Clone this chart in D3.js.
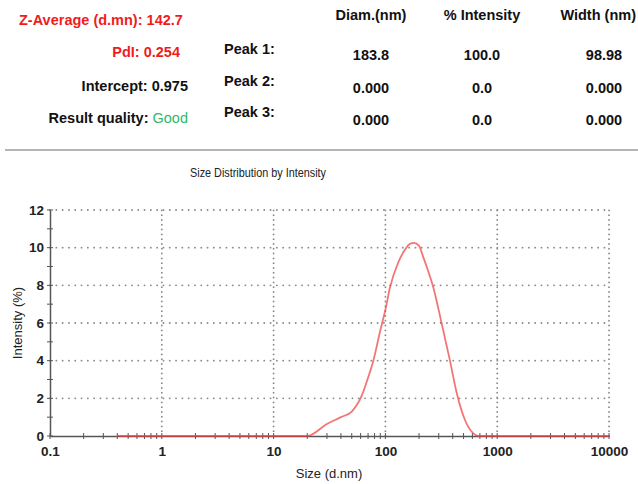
<!DOCTYPE html>
<html>
<head>
<meta charset="utf-8">
<script src="https://cdn.jsdelivr.net/npm/d3@7"></script>
<style>
  body { margin: 0; background: #fff; }
  svg { display: block; font-family: "Liberation Sans", Arial, sans-serif; }
</style>
</head>
<body>
<div id="chart"></div>
<script>
"use strict";

// Summary values from the report header
var summaryRows = [
    { label: "Z-Average (d.mn): ", value: "142.7", color: "#f01c1c", valueColor: "#f01c1c" },
    { label: "PdI: ", value: "0.254", color: "#f01c1c", valueColor: "#f01c1c" },
    { label: "Intercept: ", value: "0.975", color: "#111", valueColor: "#111" },
    { label: "Result quality: ", value: "Good", color: "#111", valueColor: "#2fb86b" }
];
var peakNames = ["Peak 1:", "Peak 2:", "Peak 3:"];
var peakColumns = ["Diam.(nm)", "% Intensity", "Width (nm)"];
var peakDiam = ["183.8", "0.000", "0.000"];
var peakIntensity = ["100.0", "0.0", "0.0"];
var peakWidth = ["98.98", "0.000", "0.000"];

// Size distribution (d.nm vs intensity %)
var sizes = [0.4, 1, 10, 20, 30, 40, 50, 61, 70, 78, 90, 100, 110, 130, 150, 166, 180, 200, 218, 240, 268, 318, 378, 434, 515, 611, 680, 1000, 10000];
var intensities = [0, 0, 0, 0, 0.64, 1.0, 1.3, 2.1, 3.1, 4.0, 5.6, 6.7, 7.9, 9.2, 9.9, 10.2, 10.25, 10.1, 9.5, 8.8, 7.9, 6.0, 4.0, 2.3, 0.85, 0.14, 0, 0, 0];
var xTicks = [0.1, 1, 10, 100, 1000, 10000];
var yTicks = [0, 2, 4, 6, 8, 10, 12];

var width = 638, height = 484;
var svg = d3.select("#chart").append("svg")
    .attr("width", width)
    .attr("height", height);

var headFont = "14.5px";

// ---- header block ----
var rowY = [20, 52, 86, 118];
summaryRows.forEach(function (r, i) {
    var t = svg.append("text")
        .attr("y", rowY[i])
        .attr("dy", "0.35em")
        .style("font-size", headFont)
        .style("font-weight", "bold");
    if (i === 0) {
        t.attr("x", 19).attr("text-anchor", "start");
    } else {
        t.attr("x", i === 1 ? 180 : 188).attr("text-anchor", "end");
    }
    t.append("tspan").attr("fill", r.color).text(r.label);
    t.append("tspan").attr("fill", r.valueColor)
        .style("font-weight", r.value === "Good" ? "normal" : "bold")
        .text(r.value);
});

var peakY = [49, 81, 112];
var valueY = [55, 88, 120];
peakNames.forEach(function (p, i) {
    svg.append("text")
        .attr("x", 224).attr("y", peakY[i]).attr("dy", "0.35em")
        .style("font-size", headFont).style("font-weight", "bold")
        .attr("fill", "#111")
        .text(p);
});
var colX = [371, 482, 604];
peakColumns.forEach(function (c, i) {
    var last = i === peakColumns.length - 1;
    svg.append("text")
        // last header sits against the right edge so it stays whole
        .attr("x", last ? 636 : colX[i]).attr("y", 15).attr("dy", "0.35em")
        .attr("text-anchor", last ? "end" : "middle")
        .style("font-size", headFont).style("font-weight", "bold")
        .attr("fill", "#111")
        .text(c);
});
[peakDiam, peakIntensity, peakWidth].forEach(function (col, ci) {
    col.forEach(function (v, ri) {
        svg.append("text")
            .attr("x", colX[ci]).attr("y", valueY[ri]).attr("dy", "0.35em")
            .attr("text-anchor", "middle")
            .style("font-size", headFont).style("font-weight", "bold")
            .attr("fill", "#111")
            .text(v);
    });
});

// separator
svg.append("line")
    .attr("x1", 5).attr("x2", width).attr("y1", 150).attr("y2", 150)
    .attr("stroke", "#b5b5b5").attr("stroke-width", 2);

svg.append("text")
    .attr("x", 258).attr("y", 172).attr("dy", "0.35em")
    .attr("text-anchor", "middle")
    .style("font-size", "13px")
    .attr("fill", "#222")
    .attr("textLength", 136).attr("lengthAdjust", "spacingAndGlyphs")
    .text("Size Distribution by Intensity");

// ---- plot ----
var x = d3.scaleLog().domain([0.1, 10000]).range([50, 609]);
var y = d3.scaleLinear().domain([0, 12]).range([436, 210]);

// dotted grid
var grid = svg.append("g").attr("stroke", "#8c8c8c").attr("stroke-width", 1.8)
    .attr("stroke-linecap", "round");
grid.selectAll("line.h")
    .data(yTicks.filter(function (d) { return d > 0; }))
    .enter().append("line")
    .attr("x1", x(0.1)).attr("x2", x(10000))
    .attr("y1", function (d) { return y(d); })
    .attr("y2", function (d) { return y(d); })
    .attr("stroke-dasharray", "0.1,6.2");
grid.selectAll("line.v")
    .data(xTicks.filter(function (d) { return d > 0.1; }))
    .enter().append("line")
    .attr("y1", y(0)).attr("y2", y(12))
    .attr("x1", function (d) { return x(d); })
    .attr("x2", function (d) { return x(d); })
    .attr("stroke-dasharray", "0.1,4.7");

// axes
var minorX = [];
[0.1, 1, 10, 100, 1000].forEach(function (dec) {
    for (var k = 2; k <= 9; k++) minorX.push(dec * k);
});
var xAxis = d3.axisBottom(x).tickValues(xTicks)
    .tickFormat(function (d) { return String(d); })
    .tickSize(0).tickPadding(10);
var gx = svg.append("g").attr("transform", "translate(0," + y(0) + ")").call(xAxis);
gx.select(".domain").attr("stroke", "#555").attr("stroke-width", 1.5);
gx.selectAll("text").style("font-size", "13.5px").style("font-family", "Liberation Sans, Arial, sans-serif")
    .style("font-weight", "bold").attr("fill", "#222");
svg.append("g").selectAll("line")
    .data(minorX.concat(xTicks))
    .enter().append("line")
    .attr("x1", function (d) { return x(d); })
    .attr("x2", function (d) { return x(d); })
    .attr("y1", y(0) - 3).attr("y2", y(0) + 3)
    .attr("stroke", "#555").attr("stroke-width", 1);

var yAxis = d3.axisLeft(y).tickValues(yTicks).tickSize(0).tickPadding(6);
var gy = svg.append("g").attr("transform", "translate(" + x(0.1) + ",0)").call(yAxis);
gy.select(".domain").attr("stroke", "#555").attr("stroke-width", 1.5);
gy.selectAll("text").style("font-size", "13.5px").style("font-family", "Liberation Sans, Arial, sans-serif")
    .style("font-weight", "bold").attr("fill", "#222");
svg.append("g").selectAll("line")
    .data(d3.range(0, 13))
    .enter().append("line")
    .attr("x1", x(0.1) - 3).attr("x2", x(0.1) + 3)
    .attr("y1", function (d) { return y(d); })
    .attr("y2", function (d) { return y(d); })
    .attr("stroke", "#555").attr("stroke-width", 1);

// curve
var line = d3.line()
    .x(function (d, i) { return x(sizes[i]); })
    .y(function (d) { return y(d); })
    .curve(d3.curveMonotoneX);
svg.append("path")
    .datum(intensities)
    .attr("d", line)
    .attr("fill", "none")
    .attr("stroke", "#ee3b3b")
    .attr("stroke-opacity", 0.7)
    .attr("stroke-width", 1.8);

// axis titles
svg.append("text")
    .attr("x", 329).attr("y", 473).attr("dy", "0.35em")
    .attr("text-anchor", "middle")
    .style("font-size", "13px")
    .attr("fill", "#222")
    .text("Size (d.nm)");
svg.append("text")
    .attr("transform", "translate(17,323) rotate(-90)")
    .attr("dy", "0.35em")
    .attr("text-anchor", "middle")
    .style("font-size", "13px")
    .attr("fill", "#222")
    .text("Intensity (%)");
</script>
</body>
</html>
